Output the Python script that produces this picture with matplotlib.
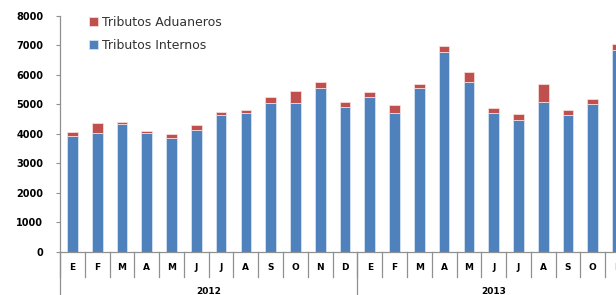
import matplotlib
matplotlib.use("Agg")
import matplotlib.pyplot as plt
import matplotlib.transforms as mtransforms

months = ["E", "F", "M", "A", "M", "J", "J", "A", "S", "O", "N", "D",
          "E", "F", "M", "A", "M", "J", "J", "A", "S", "O", "N"]
years = ["2012", "2013"]
year_counts = [12, 11]
internos = [3920, 4040, 4330, 4040, 3860, 4140, 4650, 4690, 5040, 5040, 5550, 4910,
            5260, 4710, 5550, 6760, 5740, 4690, 4450, 5060, 4620, 4990, 6850]
aduaneros = [130, 330, 70, 60, 130, 160, 90, 130, 190, 420, 190, 180,
             150, 250, 120, 210, 350, 180, 230, 640, 190, 200, 180]
yticks = [0, 1000, 2000, 3000, 4000, 5000, 6000, 7000, 8000]

W, H = 616, 295
fig = plt.figure(figsize=(W / 100, H / 100), dpi=100)
left, right, bottom, top = 60, 630, 251.7, 15.7
ax = fig.add_axes([left / W, (H - bottom) / H, (right - left) / W, (bottom - top) / H])

blue = "#4F81BD"
red = "#C0504D"
x = list(range(len(months)))
bw = 0.43
b1 = ax.bar(x, internos, width=bw, color=blue, edgecolor=(0.85, 0.9, 0.96, 0.9), linewidth=0.6,
            label="Tributos Internos")
b2 = ax.bar(x, aduaneros, bottom=internos, width=bw, color=red, edgecolor=(0.97, 0.88, 0.88, 0.9),
            linewidth=0.6, label="Tributos Aduaneros")

ax.set_xlim(-0.5, len(months) - 0.5)
ax.set_ylim(0, 8000)
ax.set_yticks(yticks)
ax.set_yticklabels([str(v) for v in yticks], fontsize=7, fontweight="bold", family="DejaVu Sans")
ax.tick_params(axis="y", length=3, width=0.8, color="#909090", pad=9)
ax.set_xticks([])
for s in ["top", "right"]:
    ax.spines[s].set_visible(False)
for s in ["left", "bottom"]:
    ax.spines[s].set_color("#909090")
    ax.spines[s].set_linewidth(0.9)

trans = mtransforms.blended_transform_factory(ax.transData, ax.transAxes)
ah = bottom - top
# category separators
for i in range(len(months) + 1):
    ax.plot([i - 0.5, i - 0.5], [0, -25 / ah], transform=trans, color="#909090", lw=0.9, clip_on=False)
# month labels
for i, m in enumerate(months):
    ax.text(i, -16 / ah, m, transform=trans, ha="center", va="center", fontsize=6.5,
            fontweight="bold", family="DejaVu Sans")
# year groups
start = 0
for yname, cnt in zip(years, year_counts):
    ax.plot([start - 0.5, start - 0.5], [0, -(H - bottom) / ah], transform=trans, color="#909090",
            lw=0.9, clip_on=False)
    ax.text(start - 0.5 + cnt / 2, -40 / ah, yname, transform=trans, ha="center", va="center",
            fontsize=6.5, fontweight="bold", family="DejaVu Sans")
    start += cnt

leg = fig.legend(handles=[b2, b1], labels=["Tributos Aduaneros", "Tributos Internos"],
                 loc="upper left", bbox_to_anchor=(89 / W, 1 - 16 / H), bbox_transform=fig.transFigure,
                 frameon=False, fontsize=9, handlelength=0.7, handleheight=0.7, handletextpad=0.35,
                 labelspacing=0.78, borderpad=0, borderaxespad=0)
for t in leg.get_texts():
    t.set_color("#333333")

fig.savefig("out.png", dpi=100)
